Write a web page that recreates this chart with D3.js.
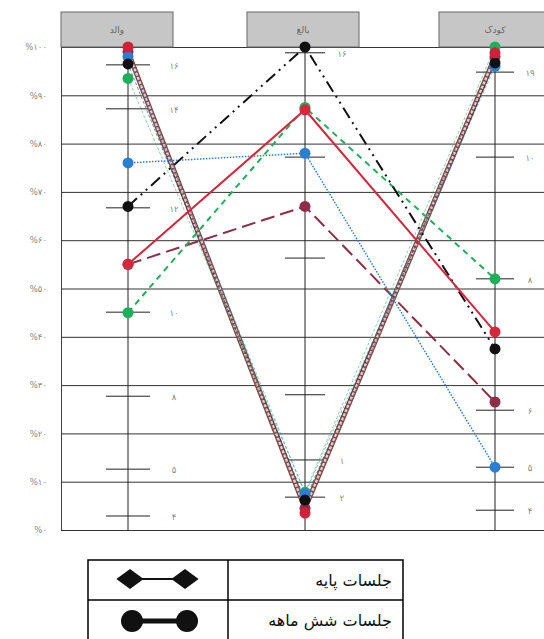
<!DOCTYPE html>
<html><head><meta charset="utf-8">
<script src="https://cdn.jsdelivr.net/npm/d3@7"></script>
<style>html,body{margin:0;padding:0;background:#fff;}svg{display:block;}</style>
</head><body>
<svg id="c" width="544" height="639"></svg>
<script>
// ---- data ----
const columns = ["والد", "بالغ", "کودک"];
const yTickValues = [0, 10, 20, 30, 40, 50, 60, 70, 80, 90, 100];

// six-month series (values for والد, بالغ, کودک in %)
const redSolid     = [55, 87, 41];
const greenDashed  = [45, 87.5, 52];
const blackDashDot = [67, 100, 37.5];
const blueDotted   = [76, 78, 13];
const maroonDashed = [55, 67, 26.5];
// V-shaped series
const redV    = [100, 3.5, 98.8];
const maroonV = [99, 4.5, 98];
const blueV   = [98, 7.5, 96];
const blackV  = [96.5, 6.2, 96.7];
const greenV  = [93.5, 7.8, 100];

// horizontal tick annotations per column
const tickValsParent = [96.3, 87.2, 66.7, 45.1, 27.7, 12.6, 2.9];
const tickLblsParent = ["۱۶", "۱۴", "۱۲", "۱۰", "۸", "۵", "۴"];
const tickValsAdult  = [98.8, 77.2, 56.3, 28, 14.5, 6.8];
const tickLblsAdult  = ["۱۶", "", "", "", "۱", "۲"];
const tickValsChild  = [94.8, 77.2, 52, 24.8, 13, 4.1];
const tickLblsChild  = ["۱۹", "۱۰", "۸", "۶", "۵", "۴"];

const legendLabels = ["جلسات پایه", "جلسات شش ماهه"];

// ---- drawing ----
const fa = s => String(s).replace(/\d/g, d => "۰۱۲۳۴۵۶۷۸۹"[d]);
const svg = d3.select("#c");
const y = d3.scaleLinear().domain([0, 100]).range([530, 47]);
const x = d3.scaleOrdinal().domain(columns).range([128, 305, 495]);
const hx = d3.scaleOrdinal().domain(columns).range([117, 303, 495]);
const plotL = 61, plotR = 544;

// grid
const gAxis = svg.append("g").attr("transform", `translate(${plotL},0)`)
  .call(d3.axisLeft(y).tickValues(yTickValues).tickSize(-(plotR - plotL)).tickPadding(14)
    .tickFormat(d => "%" + fa(d)));
gAxis.select(".domain").attr("stroke", "#444");
gAxis.selectAll(".tick line").attr("stroke", "#333").attr("stroke-width", 1);
gAxis.selectAll(".tick text").attr("fill", "#888").attr("font-size", 8.5)
  .attr("font-family", "DejaVu Sans").attr("direction", "ltr");

// column axes
svg.append("g").selectAll("line").data(columns).join("line")
  .attr("x1", d => x(d)).attr("x2", d => x(d)).attr("y1", y(100)).attr("y2", y(0))
  .attr("stroke", "#222").attr("stroke-width", 1);

// headers
const hg = svg.append("g");
hg.selectAll("rect").data(columns).join("rect")
  .attr("x", d => hx(d) - 56).attr("y", 12).attr("width", 112).attr("height", y(100) - 12)
  .attr("fill", "#c6c6c6").attr("stroke", "#666").attr("stroke-width", 1);
hg.selectAll("text").data(columns).join("text")
  .attr("x", d => hx(d)).attr("y", 33).attr("text-anchor", "middle")
  .attr("font-size", 9).attr("fill", "#666").attr("font-family", "DejaVu Sans").text(d => d);

// tick annotations
const tickSets = [
  [columns[0], tickValsParent, tickLblsParent, 44, 174],
  [columns[1], tickValsAdult, tickLblsAdult, 40, 342],
  [columns[2], tickValsChild, tickLblsChild, 38, 530]
];
const tg = svg.append("g");
tickSets.forEach(([col, vals, lbls, w, lx]) => {
  vals.forEach((v, i) => {
    tg.append("line").attr("x1", x(col) - w / 2).attr("x2", x(col) + w / 2)
      .attr("y1", y(v)).attr("y2", y(v)).attr("stroke", "#222").attr("stroke-width", 1);
    if (lbls[i]) tg.append("text").attr("x", lx).attr("y", y(v) + 4).attr("text-anchor", "middle")
      .attr("font-size", 8.5).attr("fill", "#888").attr("font-family", "DejaVu Sans").text(lbls[i]);
  });
});

const line = d3.line().x((d, i) => x(columns[i])).y(d => y(d));

// V series: a dark double band plus thin coloured lines
const vg = svg.append("g");
vg.append("path").attr("d", line(maroonV)).attr("fill", "none").attr("stroke", "#6a5550")
  .attr("stroke-width", 5).attr("stroke-linejoin", "round");
vg.append("path").attr("d", line(maroonV)).attr("fill", "none").attr("stroke", "#f2c9ce")
  .attr("stroke-width", 2.4).attr("stroke-dasharray", "3,1.5").attr("stroke-linejoin", "round");
const vSeries = [
  { v: greenV, c: "#2aa85a" }, { v: blackV, c: "#222" }, { v: blueV, c: "#2a7fd4" },
  { v: redV, c: "#d0203a" }
];
vSeries.forEach(s => {
  vg.append("path").attr("d", line(s.v)).attr("fill", "none").attr("stroke", s.c)
    .attr("stroke-width", 1).attr("stroke-opacity", 0.55).attr("stroke-dasharray", "3,2");
});

// main series
const mainSeries = [
  { v: maroonDashed, c: "#8e2d45", dash: "14,6", w: 2 },
  { v: blueDotted, c: "#2a7fd4", dash: "1.5,1.5", w: 1.5 },
  { v: greenDashed, c: "#1fae5a", dash: "6,5", w: 2 },
  { v: blackDashDot, c: "#111", dash: "12,5,2,5,2,5", w: 2 },
  { v: redSolid, c: "#d6263c", dash: null, w: 2 }
];
const mg = svg.append("g");
mainSeries.forEach(s => {
  mg.append("path").attr("d", line(s.v)).attr("fill", "none").attr("stroke", s.c)
    .attr("stroke-width", s.w).attr("stroke-dasharray", s.dash);
});

// markers
const markerSeries = [
  { v: maroonV, c: "#8e2d45" }, { v: greenV, c: "#1fae5a" }, { v: blueV, c: "#2a7fd4" },
  { v: blackV, c: "#111" }, { v: redV, c: "#d0203a" }
].concat(mainSeries.map(s => ({ v: s.v, c: s.c })));
markerSeries.forEach(s => {
  svg.append("g").selectAll("circle").data(s.v).join("circle")
    .attr("cx", (d, i) => x(columns[i])).attr("cy", d => y(d)).attr("r", 5.5).attr("fill", s.c);
});

// legend table
const lg = svg.append("g");
const tL = 88, tR = 403, tT = 560, rowH = 40, divX = 228;
lg.append("rect").attr("x", tL).attr("y", tT).attr("width", tR - tL).attr("height", rowH * 2 + 4)
  .attr("fill", "none").attr("stroke", "#000").attr("stroke-width", 1.5);
lg.append("line").attr("x1", tL).attr("x2", tR).attr("y1", tT + rowH).attr("y2", tT + rowH)
  .attr("stroke", "#000").attr("stroke-width", 1.5);
lg.append("line").attr("x1", divX).attr("x2", divX).attr("y1", tT).attr("y2", tT + rowH * 2 + 4)
  .attr("stroke", "#000").attr("stroke-width", 1.5);
legendLabels.forEach((t, i) => {
  lg.append("text").attr("x", 392).attr("y", tT + rowH * i + 26).attr("text-anchor", "start")
    .attr("direction", "rtl").attr("font-size", 16).attr("font-family", "DejaVu Sans").attr("fill", "#111").text(t);
});
// diamond row
const cy1 = tT + 19, cy2 = tT + rowH + 21;
lg.append("line").attr("x1", 130).attr("x2", 185).attr("y1", cy1).attr("y2", cy1).attr("stroke", "#111").attr("stroke-width", 2);
lg.selectAll("path.dia").data([130, 185]).join("path").attr("class", "dia")
  .attr("d", d3.symbol().type(d3.symbolDiamond2).size(260)())
  .attr("transform", d => `translate(${d},${cy1}) scale(1.35,1)`).attr("fill", "#111");
lg.append("line").attr("x1", 132).attr("x2", 187).attr("y1", cy2).attr("y2", cy2).attr("stroke", "#111").attr("stroke-width", 5);
lg.selectAll("circle").data([132, 187]).join("circle")
  .attr("cx", d => d).attr("cy", cy2).attr("r", 11).attr("fill", "#111");
</script>
</body></html>
